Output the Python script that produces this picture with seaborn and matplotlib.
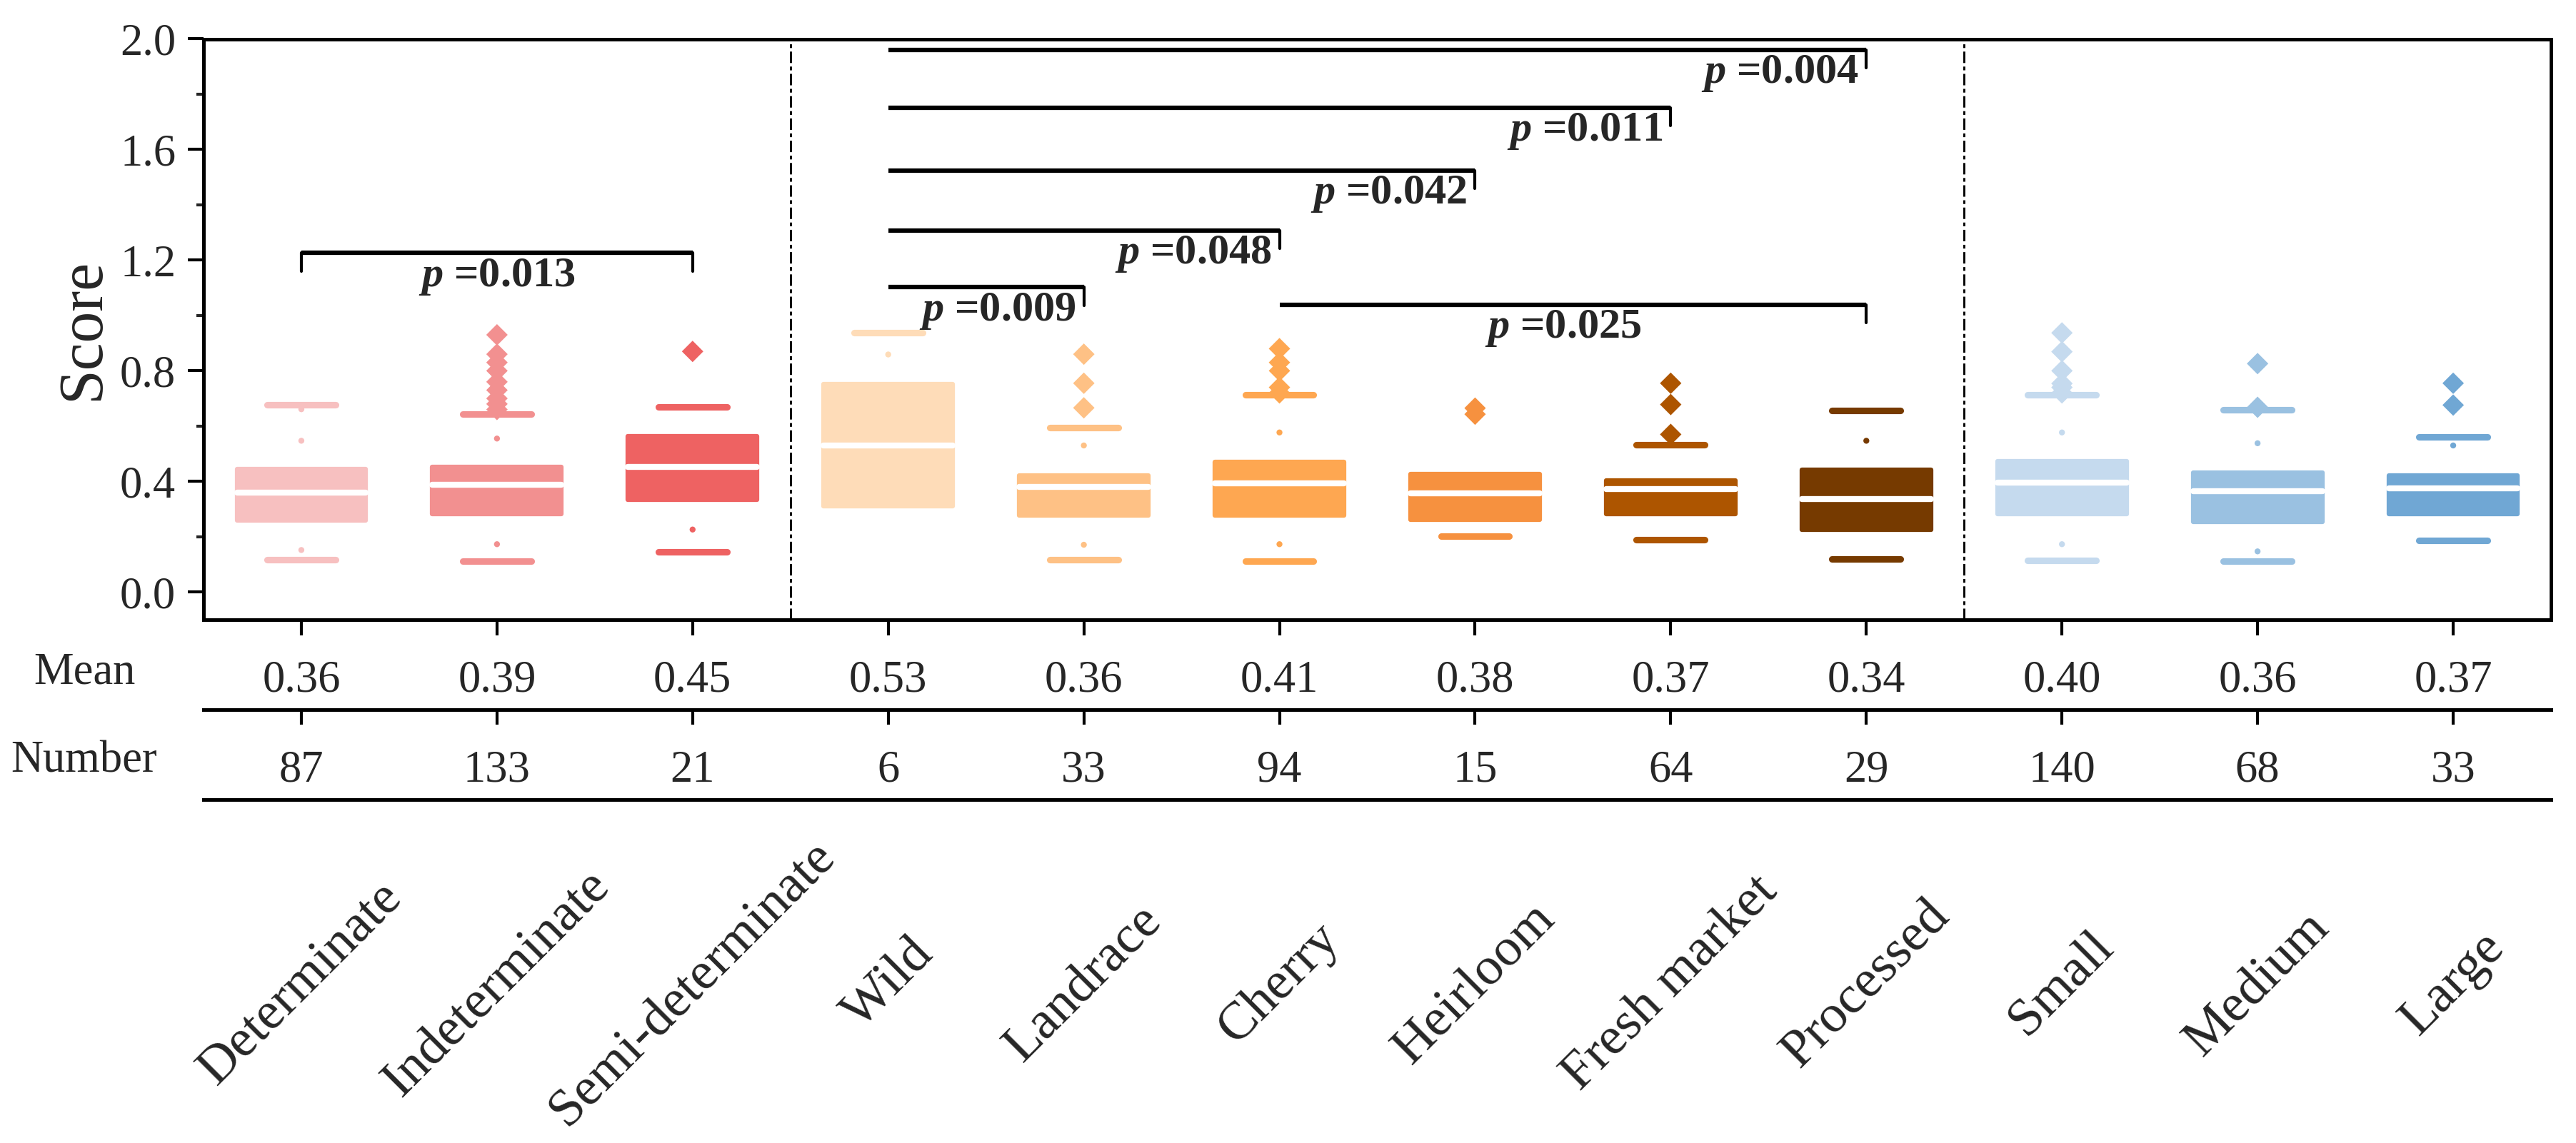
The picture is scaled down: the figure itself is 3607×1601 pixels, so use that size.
import numpy as np
import pandas as pd
import matplotlib
matplotlib.use('Agg')
import matplotlib.pyplot as plt
import matplotlib.transforms as mtransforms
from matplotlib.ticker import MultipleLocator, FormatStrFormatter
import seaborn as sns

# ---- datos ----
categories = ['Determinate', 'Indeterminate', 'Semi-determinate',
              'Wild', 'Landrace', 'Cherry', 'Heirloom', 'Fresh market', 'Processed',
              'Small', 'Medium', 'Large']
group_sizes = [3, 6, 3]
box_colors = ['#F7C0C0', '#F29090', '#EE6262',
              '#FEDCB8', '#FEC185', '#FEA751', '#F6913F', '#AD5500', '#763A00',
              '#C5DAEE', '#9AC1E1', '#70A7D4']

q1 = [0.258, 0.281, 0.333, 0.310, 0.278, 0.278, 0.261, 0.281, 0.226, 0.283, 0.254, 0.281]
medians = [0.359, 0.387, 0.452, 0.531, 0.381, 0.392, 0.358, 0.372, 0.337, 0.396, 0.365, 0.374]
q3 = [0.444, 0.452, 0.563, 0.752, 0.421, 0.470, 0.426, 0.403, 0.441, 0.473, 0.432, 0.421]
whisker_low = [0.117, 0.111, 0.144, 0.340, 0.116, 0.111, 0.202, 0.188, 0.119, 0.114, 0.111, 0.187]
whisker_high = [0.677, 0.643, 0.669, 0.937, 0.595, 0.713, 0.400, 0.532, 0.657, 0.713, 0.658, 0.562]

small_dots = {
    'Determinate': [0.547, 0.152, 0.661],
    'Indeterminate': [0.555, 0.173],
    'Semi-determinate': [0.226],
    'Wild': [0.859],
    'Landrace': [0.530, 0.171],
    'Cherry': [0.577, 0.173],
    'Processed': [0.547],
    'Small': [0.577, 0.173],
    'Medium': [0.538, 0.147],
    'Large': [0.530],
}
outliers = {
    'Indeterminate': [0.93, 0.86, 0.83, 0.80, 0.76, 0.73, 0.70, 0.68, 0.66],
    'Semi-determinate': [0.87],
    'Landrace': [0.86, 0.755, 0.666],
    'Cherry': [0.88, 0.83, 0.80, 0.74, 0.72],
    'Heirloom': [0.665, 0.643],
    'Fresh market': [0.755, 0.678, 0.570],
    'Small': [0.937, 0.869, 0.80, 0.754, 0.74, 0.72],
    'Medium': [0.826, 0.668],
    'Large': [0.755, 0.676],
}

mean_values = [0.36, 0.39, 0.45, 0.53, 0.36, 0.41, 0.38, 0.37, 0.34, 0.40, 0.36, 0.37]
numbers = [87, 133, 21, 6, 33, 94, 15, 64, 29, 140, 68, 33]

# comparaciones significativas
p_left = ['Determinate', 'Wild', 'Wild', 'Wild', 'Wild', 'Wild', 'Cherry']
p_right = ['Semi-determinate', 'Landrace', 'Cherry', 'Heirloom', 'Fresh market', 'Processed', 'Processed']
p_height = [1.226, 1.102, 1.308, 1.525, 1.751, 1.961, 1.039]
p_values = ['0.013', '0.009', '0.048', '0.042', '0.011', '0.004', '0.025']

# ---- estilo ----
sns.set_style('ticks')
plt.rcParams['font.family'] = ['Liberation Serif', 'DejaVu Serif']
plt.rcParams['mathtext.fontset'] = 'custom'
plt.rcParams['mathtext.it'] = 'Liberation Serif:italic:bold'
plt.rcParams['mathtext.rm'] = 'Liberation Serif:bold'

W, H = 3607, 1601
fig = plt.figure(figsize=(W / 300, H / 300), dpi=300)


def fy(px):
    return 1 - px / H


left, right = 285 / W, 3572 / W
ax = fig.add_axes([left, fy(868), right - left, (868 - 54.5) / H])

pos = np.arange(len(categories))
stats = [dict(med=m, q1=a, q3=b, whislo=lo, whishi=hi, fliers=[], label=c)
         for c, a, m, b, lo, hi in zip(categories, q1, medians, q3, whisker_low, whisker_high)]
bp = ax.bxp(stats, positions=pos, widths=0.66, patch_artist=True, showfliers=False,
            capwidths=0.35, manage_ticks=False)
for i, box in enumerate(bp['boxes']):
    box.set(facecolor=box_colors[i], edgecolor=box_colors[i], linewidth=1.5,
            joinstyle='round', zorder=2)
for i, cap in enumerate(bp['caps']):
    cap.set(color=box_colors[i // 2], linewidth=2.2, solid_capstyle='round', zorder=2)
for w in bp['whiskers']:
    w.set_visible(False)
for med in bp['medians']:
    med.set(color='white', linewidth=2.0, solid_capstyle='round', zorder=3)

palette = dict(zip(categories, box_colors))
df_dots = pd.DataFrame([(c, categories.index(c), v) for c, vals in small_dots.items() for v in vals],
                       columns=['category', 'pos', 'score'])
df_out = pd.DataFrame([(c, categories.index(c), v) for c, vals in outliers.items() for v in vals],
                      columns=['category', 'pos', 'score'])
sns.scatterplot(data=df_dots, x='pos', y='score', hue='category', palette=palette,
                marker='o', s=4, linewidth=0, legend=False, ax=ax, zorder=4)
sns.scatterplot(data=df_out, x='pos', y='score', hue='category', palette=palette,
                marker='D', s=26, linewidth=0, legend=False, ax=ax, zorder=4)

# separadores de grupos
for b in np.cumsum(group_sizes)[:-1] - 0.5:
    ax.axvline(b, color='black', linewidth=0.7, linestyle=(0, (5.5, 1.7, 1.8, 1.7)), zorder=1)

# corchetes con p
drop = 0.065
for l, r, yb, pv in zip(p_left, p_right, p_height, p_values):
    xl, xr = categories.index(l), categories.index(r)
    ax.plot([xl, xr], [yb, yb], color='black', linewidth=1.5, solid_capstyle='butt', zorder=5)
    ax.plot([xr, xr], [yb, yb - drop], color='black', linewidth=1.0, zorder=5)
    label = r'$p$ =' + pv
    if l == 'Wild':
        ax.text(xr - 0.04, yb - 0.086, label, ha='right', va='center',
                fontsize=14.5, fontweight='bold')
    else:
        if r != 'Processed':
            ax.plot([xl, xl], [yb, yb - drop], color='black', linewidth=1.0, zorder=5)
        ax.text((xl + xr) / 2 - 0.05 * (r == 'Processed'), yb - 0.086, label,
                ha='center', va='center', fontsize=14.5, fontweight='bold')

ax.set_xlim(-0.5, len(categories) - 0.5)
ax.set_ylim(-0.1, 2.0)
ax.set_xticks(pos)
ax.yaxis.set_major_locator(MultipleLocator(0.4))
ax.yaxis.set_minor_locator(MultipleLocator(0.2))
ax.yaxis.set_major_formatter(FormatStrFormatter('%.1f'))
ax.tick_params(axis='both', which='major', direction='out', length=5.3, width=1.0,
               labelsize=15, pad=4, color='black', labelbottom=False)
ax.tick_params(axis='y', which='minor', direction='out', length=2.5, width=1.0)
ax.set_xlabel('')
ax.set_ylabel('Score', fontsize=21)
ax.yaxis.set_label_coords(-0.039, 0.5)
for s in ax.spines.values():
    s.set_visible(True)
    s.set_linewidth(1.2)
    s.set_color('black')

# ---- tabla: Mean / Number ----
ax_mean = fig.add_axes([left, fy(994), right - left, 126 / H])
ax_num = fig.add_axes([left, fy(1120), right - left, 126 / H])
for t_ax in (ax_mean, ax_num):
    t_ax.set_xlim(-0.5, len(categories) - 0.5)
    t_ax.set_ylim(0, 1)
    t_ax.set_facecolor('none')
    for k, s in t_ax.spines.items():
        s.set_visible(k == 'bottom')
        s.set_linewidth(1.2)
        s.set_color('black')
    t_ax.set_yticks([])
ax_mean.set_xticks(pos)
ax_mean.tick_params(axis='x', direction='out', length=5.0, width=1.0, labelbottom=False, color='black')
ax_num.set_xticks([])

for i, (m, n) in enumerate(zip(mean_values, numbers)):
    ax_mean.text(i, 0.32, f'{m:.2f}', ha='center', va='center', fontsize=15)
    ax_num.text(i, 0.32, f'{n}', ha='center', va='center', fontsize=15)
fig.text(118 / W, fy(943), 'Mean', ha='center', va='center', fontsize=15)
fig.text(118 / W, fy(1066), 'Number', ha='center', va='center', fontsize=15)

# etiquetas de categoría rotadas
trans = mtransforms.blended_transform_factory(ax.transData, fig.transFigure)
for i, c in enumerate(categories):
    fig.text(i, fy(1378), c, transform=trans, rotation=45, ha='center', va='center', fontsize=18)

fig.savefig('out.png', dpi=300)
